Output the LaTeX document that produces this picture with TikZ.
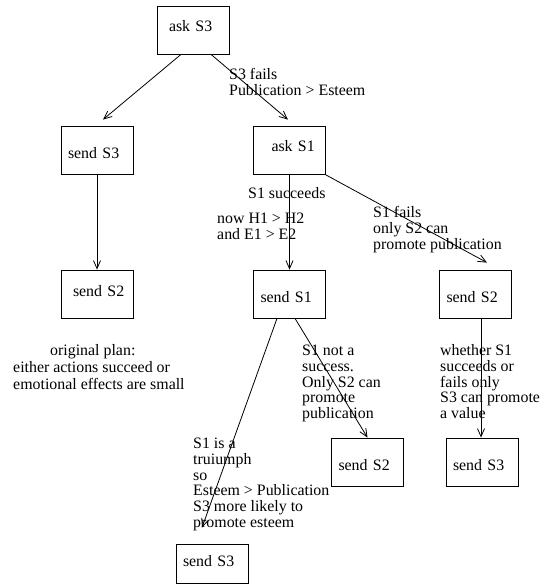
\documentclass[tikz,border=0pt]{standalone}
\usepackage{fontspec}
\setmainfont{Liberation Serif}
\usetikzlibrary{arrows.meta}
\begin{document}
\begin{tikzpicture}[x=1pt,y=-1pt,
  txt/.style={font=\fontsize{15.9pt}{15.9pt}\selectfont},
  box/.style={txt, draw, line width=0.8pt, minimum width=72pt, minimum height=48pt,
    inner xsep=7pt, inner ysep=0pt, text width=58pt, align=left,
    text height=16pt, text depth=0pt},
  lbl/.style={txt, anchor=north west, inner sep=0pt, align=left},
  arr/.style={line width=0.8pt, -{Straight Barb[length=8pt,width=7pt]}}
]
\useasboundingbox (0,0) rectangle (539,584);
% boxes
\node[box, text height=3.4pt] (askS3) at (193,30) {\hspace*{5pt}ask S3};
\node[box] (sendS3a) at (97,150) {send S3};
\node[box, text height=4pt] (sendS2a) at (97,294) {\hspace*{5pt}send S2};
\node[box, text height=2.4pt] (askS1) at (289.5,150.5) {\hspace*{11pt}ask S1};
\node[box] (sendS1) at (289.5,294) {send S1};
\node[box] (sendS2b) at (475.5,294) {send S2};
\node[box] (sendS2c) at (367.5,462) {send S2};
\node[box] (sendS3b) at (482,462) {send S3};
\node[box, minimum height=39pt, text height=6pt] (sendS3c) at (212,563.5) {send S3};
% connectors
\draw[arr] ([xshift=-12pt]askS3.south) -- ([xshift=6pt,yshift=6pt]sendS3a.north);
\draw[arr] ([xshift=18pt]askS3.south) -- ([xshift=-1.5pt,yshift=6.5pt]askS1.north);
\draw[arr] (sendS3a.south) -- (sendS2a.north);
\draw[arr] (askS1.south) -- (sendS1.north);
\draw[arr] (askS1.south east) -- ([xshift=11.5pt,yshift=7pt]sendS2b.north);
\draw[arr] ([xshift=-12.5pt]sendS1.south) -- ([xshift=-10pt,yshift=16pt]sendS3c.north);
\draw[arr] ([xshift=5.5pt]sendS1.south) -- (sendS2c.north);
\draw[arr] ([xshift=5.5pt]sendS2b.south) -- ([xshift=-1pt]sendS3b.north);
% labels
\node[lbl] (t1) at (229,67.9) {\strut S3 fails\\Publication > Esteem};
\node[lbl] (t2) at (248,186.9) {\strut S1 succeeds};
\node[lbl] (t3) at (217,211.9) {\strut now H1 > H2\\and E1 > E2};
\node[lbl] (t4) at (373,205.9) {\strut S1 fails\\only S2 can\\promote publication};
\node[lbl, font=\fontsize{15.9pt}{17.3pt}\selectfont] (t5) at (13,342.9)
  {\strut\hspace*{37pt}original plan:\\either actions succeed or\\emotional effects are small};
\node[lbl] (t6) at (302,343.9) {\strut S1 not a\\success.\\Only S2 can\\promote\\publication};
\node[lbl] (t7) at (440,343.9) {\strut whether S1\\succeeds or\\fails only\\S3 can promote\\a value};
\node[lbl] (t8) at (193,436.9) {\strut S1 is a\\truiumph\\so\\Esteem > Publication\\S3 more likely to\\promote esteem};
\end{tikzpicture}
\end{document}
